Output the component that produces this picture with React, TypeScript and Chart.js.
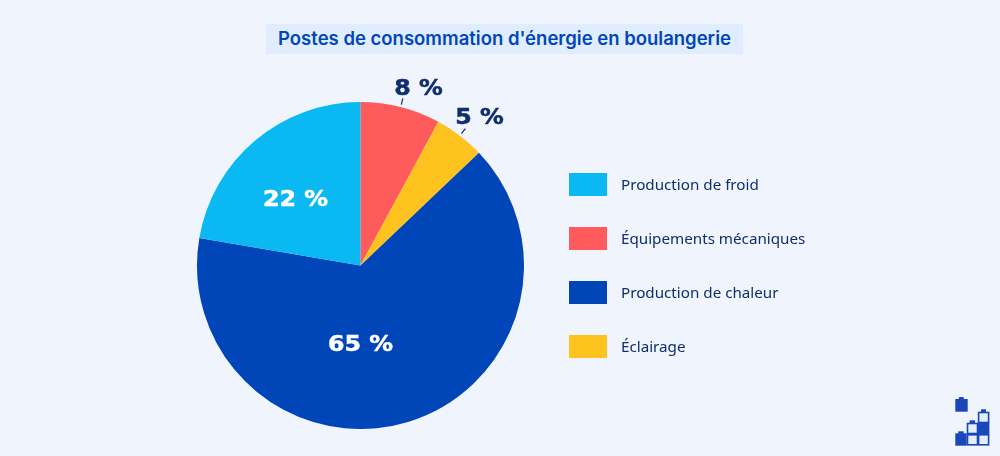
import React, { useEffect, useRef } from "react";
import { Chart, registerables } from "chart.js";

Chart.register(...registerables);

const titleText = "Postes de consommation d'énergie en boulangerie";
const categories = ["Équipements mécaniques", "Éclairage", "Production de chaleur", "Production de froid"];
const values = [7.9, 5, 64.8, 22.3];
const valueLabels = ["8 %", "5 %", "65 %", "22 %"];
const sliceColors = ["#ff5a5c", "#ffc31f", "#0046b9", "#0ab8f2"];
const legendOrder = [3, 0, 2, 1];
const labelOffsets = [
  { x: 58, y: -178 },
  { x: 119, y: -149 },
  { x: 0, y: 78 },
  { x: -65, y: -67 },
];
const leaderSlices = [0, 1];

const BG = "#f0f5fd";
const INK = "#0e2f6b";
const LABEL_FONT = "bold 21px 'DejaVu Sans'";

const labelPlugin = {
  id: "sliceLabels",
  afterDatasetsDraw(chart: any) {
    const { ctx } = chart;
    const arcs = chart.getDatasetMeta(0).data;
    ctx.save();
    arcs.forEach((arc: any, i: number) => {
      const off = labelOffsets[i];
      const isLeader = leaderSlices.includes(i);
      ctx.save();
      ctx.translate(arc.x + off.x, arc.y + off.y + 2);
      ctx.scale(1.13, 1);
      ctx.font = LABEL_FONT;
      ctx.textAlign = "center";
      ctx.textBaseline = "middle";
      ctx.fillStyle = isLeader ? INK : "#ffffff";
      ctx.strokeStyle = ctx.fillStyle;
      ctx.lineWidth = 0.5;
      ctx.fillText(valueLabels[i], 0, 0);
      ctx.strokeText(valueLabels[i], 0, 0);
      ctx.restore();
      if (isLeader) {
        const a = (arc.startAngle + arc.endAngle) / 2;
        ctx.strokeStyle = INK;
        ctx.lineWidth = 1.2;
        ctx.beginPath();
        ctx.moveTo(arc.x + Math.cos(a) * (arc.outerRadius + 2.5), arc.y + Math.sin(a) * (arc.outerRadius + 2.5));
        ctx.lineTo(arc.x + Math.cos(a) * (arc.outerRadius + 9), arc.y + Math.sin(a) * (arc.outerRadius + 9));
        ctx.stroke();
      }
    });
    ctx.restore();
  },
};

function Logo() {
  const c = "#1a47b8";
  const cell = (x: number, y: number, filled: boolean) => (
    <rect x={x} y={y} width={10} height={10} fill={filled ? c : "#e6edfa"} stroke={c} strokeWidth={1.6} />
  );
  return (
    <svg width={1000} height={456} style={{ position: "absolute", left: 0, top: 0, pointerEvents: "none" }}>
      <rect x={955.3} y={399} width={12.4} height={12.7} fill={c} />
      <rect x={959} y={397} width={4.7} height={2.5} fill={c} />
      <rect x={955.3} y={433.3} width={11.4} height={12.4} fill={c} />
      <rect x={958.3} y={431.3} width={5.4} height={2.5} fill={c} />
      {cell(967.5, 423.5, false)}
      {cell(967.5, 434.8, false)}
      {cell(978.6, 412.5, false)}
      {cell(978.6, 423.5, true)}
      {cell(978.6, 434.8, false)}
      <rect x={981} y={409.3} width={5} height={3} fill={c} />
      <rect x={969.6} y={420.3} width={5.4} height={3} fill={c} />
    </svg>
  );
}

export default function App() {
  const ref = useRef<HTMLCanvasElement>(null);
  useEffect(() => {
    document.body.style.margin = "0";
    document.body.style.background = BG;
    const chart = new Chart(ref.current!, {
      type: "pie",
      data: {
        labels: categories,
        datasets: [{ data: values, backgroundColor: sliceColors, borderWidth: 0 }],
      },
      options: {
        animation: false,
        responsive: false,
        maintainAspectRatio: false,
        rotation: 0,
        layout: { padding: { left: 197, right: 476, top: 102, bottom: 27 } },
        plugins: { legend: { display: false }, tooltip: { enabled: false }, title: { display: false } },
      },
      plugins: [labelPlugin],
    } as any);
    return () => chart.destroy();
  }, []);

  return (
    <div style={{ position: "relative", width: 1000, height: 456, background: BG, overflow: "hidden" }}>
      <canvas ref={ref} width={1000} height={456} style={{ display: "block", position: "absolute", left: 0, top: 0 }} />
      <div
        style={{
          position: "absolute", left: 266, top: 24, width: 477, height: 30, lineHeight: "29px",
          background: "#e0edff", color: "#0046b9", textAlign: "center",
          fontFamily: "Inter, sans-serif", fontWeight: 600, fontSize: 18.5, whiteSpace: "nowrap",
        }}
      >
        {titleText}
      </div>
      {legendOrder.map((idx, row) => (
        <div key={idx} style={{ position: "absolute", left: 569, top: 173 + row * 54, height: 23, display: "flex", alignItems: "center" }}>
          <span style={{ display: "block", width: 38, height: 23, background: sliceColors[idx], marginRight: 14 }} />
          <span style={{ fontFamily: "'Noto Sans', sans-serif", fontSize: 15.2, color: INK, whiteSpace: "nowrap", position: "relative", top: -1 }}>
            {categories[idx]}
          </span>
        </div>
      ))}
      <Logo />
    </div>
  );
}
